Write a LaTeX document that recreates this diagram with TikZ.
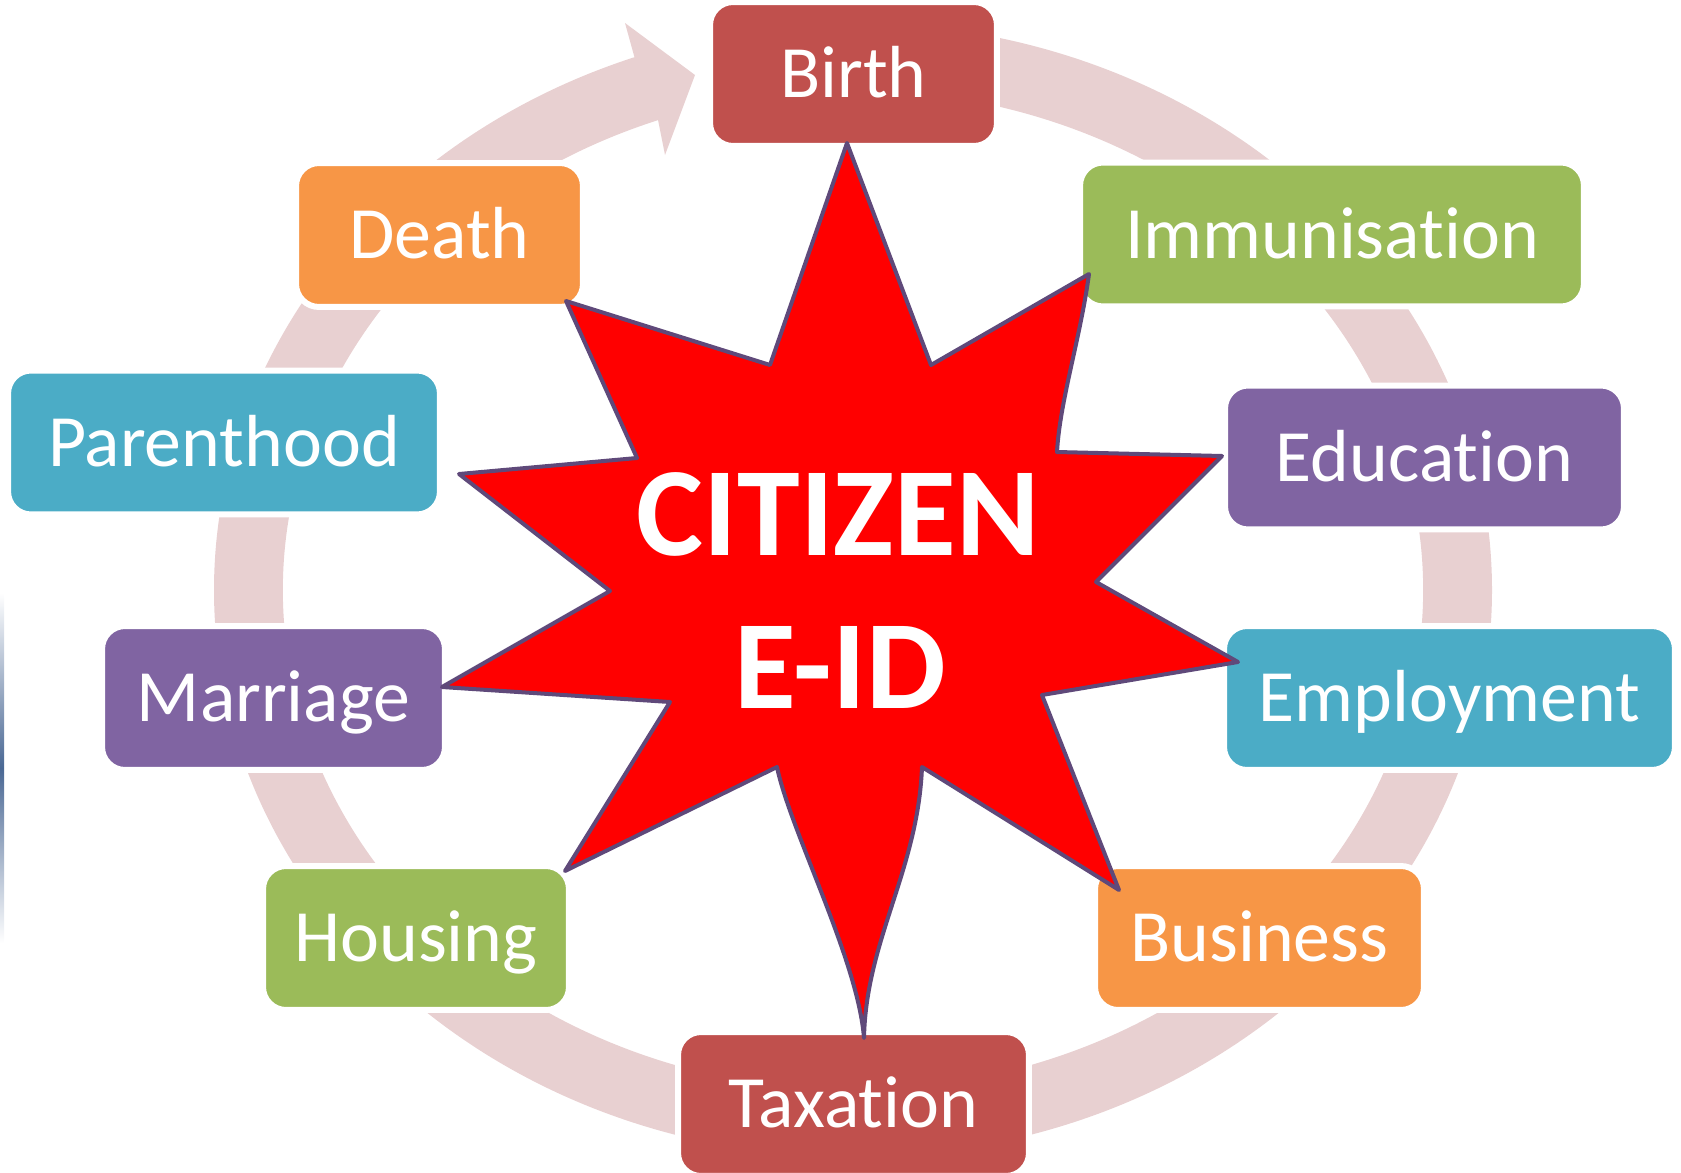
\documentclass[tikz,border=0pt]{standalone}
\usepackage{fontspec}
\setmainfont{Carlito}[Ligatures=NoCommon]
\usepackage{tikz}
\usetikzlibrary{positioning,calc}

\definecolor{lifered}{HTML}{C0504D}
\definecolor{lifegreen}{HTML}{9BBB59}
\definecolor{lifeplum}{HTML}{8064A2}
\definecolor{lifeaqua}{HTML}{4BACC6}
\definecolor{lifeorange}{HTML}{F79646}
\definecolor{ringpink}{HTML}{E8D0D1}
\definecolor{starline}{HTML}{5F497A}
\definecolor{edgeblue}{HTML}{4A6894}

\tikzset{
  stage/.style={rectangle, rounded corners=0.46cm, draw=white, line width=0.12cm,
    minimum height=2.88cm, inner sep=0pt, text=white,
    font=\fontsize{42}{50}\selectfont, text height=27pt, text depth=0pt},
  eidtext/.style={text=white, font=\bfseries\fontsize{72}{86}\selectfont,
    inner sep=0pt, anchor=base}
}

\begin{document}
\begin{tikzpicture}[x=0.02cm, y=0.02cm]
    \useasboundingbox (0,0) rectangle (1681,-1173);
    % cycle arrow behind the stages
    \fill[ringpink] ([shift={(853,-590)}]90:639 and 567)
        arc[start angle=90, end angle=-250, x radius=639, y radius=567]
        -- (625,-23) -- (695,-75) -- (665,-155)
        -- ([shift={(853,-590)}]110:570 and 500)
        arc[start angle=110, end angle=450, x radius=570, y radius=500] -- cycle;
    \shade[top color=white, bottom color=white, middle color=edgeblue] (0,-593) rectangle (4,-943);

    \node[stage, fill=lifered, minimum width=5.74cm] (birth) at (853.5,-74) {Birth};
    \node[stage, fill=lifegreen, minimum width=10.08cm] (immun) at (1332,-234.5) {Immunisation};
    \node[stage, fill=lifeplum, minimum width=7.98cm] (educ) at (1424.5,-457.5) {Education};
    \node[stage, fill=lifeaqua, minimum width=9.02cm] (employ) at (1449.5,-698) {Employment};
    \node[stage, fill=lifeorange, minimum width=6.58cm] (business) at (1259.5,-938) {Business};
    \node[stage, fill=lifered, minimum width=7.02cm] (tax) at (853.5,-1104) {Taxation};
    \node[stage, fill=lifegreen, minimum width=6.12cm] (housing) at (416,-938) {Housing};
    \node[stage, fill=lifeplum, minimum width=6.86cm] (marriage) at (273.5,-698) {Marriage};
    \node[stage, fill=lifeaqua, minimum width=8.64cm] (parent) at (224,-442.5) {Parenthood};
    \node[stage, fill=lifeorange, minimum width=5.74cm] (death) at (439.5,-235) {Death};

    % the star
    \draw[fill=red, draw=starline, line width=0.08cm, line join=round]
        (847,-143) -- (931,-365) -- (1089,-274)
        .. controls (1080,-340) and (1060,-400) .. (1057,-452)
        -- (1222,-456) -- (1096,-582) -- (1238,-662) -- (1042,-695)
        -- (1119,-890) -- (922,-767)
        .. controls (918,-870) and (866,-940) .. (864,-1038)
        .. controls (858,-960) and (790,-830) .. (777,-767)
        -- (565,-871) -- (670,-702) -- (442,-687) -- (610,-591)
        -- (459,-474) -- (637,-458) -- (566,-301) -- (770,-365) -- cycle;

    \node[eidtext] (citizen) at (838,-555) {CITIZEN};
    \node[eidtext] (eid) at (840,-708) {E-ID};
\end{tikzpicture}
\end{document}
